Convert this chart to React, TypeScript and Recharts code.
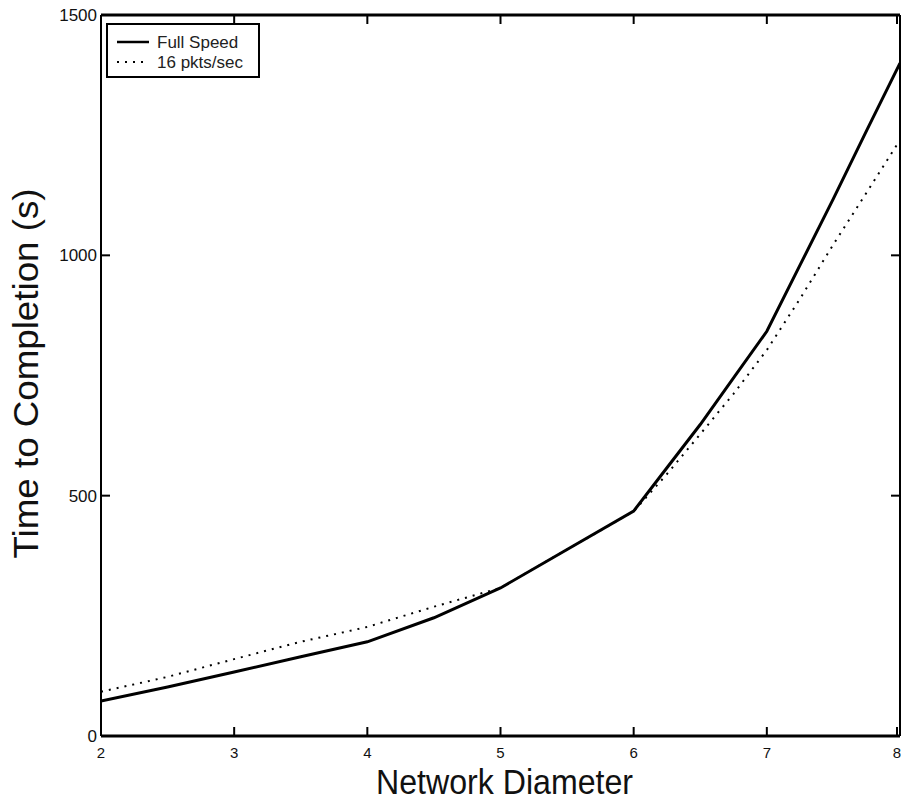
import React from "react";
import { LineChart, Line, XAxis, YAxis, Legend } from "recharts";

const diameters = [2, 2.5, 3, 3.5, 4, 4.5, 5, 5.5, 6, 6.25, 6.5, 6.75, 7, 7.25, 7.5, 7.75, 8];
const fullSpeed = [73, 102, 133, 165, 196, 246, 308, 388, 468, 558, 648, 745, 842, 980, 1118, 1260, 1400];
const limitedRate = [92, 123, 160, 196, 227, 269, 308, 388, 467, 545, 628, 712, 803, 910, 1023, 1131, 1240];
const xTicks = [2, 3, 4, 5, 6, 7, 8];
const yTicks = [0, 500, 1000, 1500];
const seriesNames = ["Full Speed", "16 pkts/sec"];

const data = diameters.map((d, i) => ({ d, full: fullSpeed[i], limited: limitedRate[i] }));

const FONT = '"Liberation Sans", Arial, Helvetica, sans-serif';
const TICK_LEN = 9;

const BottomTick = (props: any) => {
  const { x, y, payload } = props;
  return (
    <g>
      <line x1={x} y1={y} x2={x} y2={y - TICK_LEN} stroke="#000" strokeWidth={2} />
      <text x={x} y={y + 22} textAnchor="middle" fontFamily={FONT} fontSize={15} fill="#111">
        {payload.value}
      </text>
    </g>
  );
};

const TopTick = (props: any) => {
  const { x, y } = props;
  return <line x1={x} y1={y} x2={x} y2={y + TICK_LEN} stroke="#000" strokeWidth={2} />;
};

const LeftTick = (props: any) => {
  const { x, y, payload } = props;
  return (
    <g>
      <line x1={x} y1={y} x2={x + TICK_LEN} y2={y} stroke="#000" strokeWidth={2} />
      <text x={x - 4} y={y + 6} textAnchor="end" fontFamily={FONT} fontSize={17} fill="#111">
        {payload.value}
      </text>
    </g>
  );
};

const RightTick = (props: any) => {
  const { x, y } = props;
  return <line x1={x} y1={y} x2={x - TICK_LEN} y2={y} stroke="#000" strokeWidth={2} />;
};

const YLabel = (props: any) => {
  const vb = props.viewBox || {};
  const cy = vb.y + vb.height / 2 - 2;
  return (
    <text
      x={38}
      y={cy}
      transform={`rotate(-90, 38, ${cy})`}
      textAnchor="middle"
      fontFamily={FONT}
      fontSize={35}
      textLength={370}
      lengthAdjust="spacingAndGlyphs"
      fill="#111"
    >
      Time to Completion (s)
    </text>
  );
};

const XLabel = (props: any) => {
  const vb = props.viewBox || {};
  const cx = vb.x + vb.width / 2 + 4;
  return (
    <text
      x={cx}
      y={vb.y + 58}
      textAnchor="middle"
      fontFamily={FONT}
      fontSize={35}
      textLength={257}
      lengthAdjust="spacingAndGlyphs"
      fill="#111"
    >
      Network Diameter
    </text>
  );
};

const LegendBox = (props: any) => {
  const payload = [...(props.payload || [])].sort(
    (a: any, b: any) => seriesNames.indexOf(a.value) - seriesNames.indexOf(b.value)
  );
  return (
    <svg width={155} height={56} style={{ display: "block" }}>
      <rect x={1} y={1} width={152} height={53} fill="#fff" stroke="#000" strokeWidth={2} />
      {payload.map((entry: any, i: number) => {
        const cy = 19 + i * 20;
        return (
          <g key={i}>
            <line
              x1={11}
              x2={43}
              y1={cy}
              y2={cy}
              stroke="#000"
              strokeWidth={i === 0 ? 2.5 : 2}
              strokeDasharray={entry.payload && entry.payload.strokeDasharray}
            />
            <text x={51} y={cy + 6} fontFamily={FONT} fontSize={17} fill="#222">
              {entry.value}
            </text>
          </g>
        );
      })}
    </svg>
  );
};

export default function App() {
  return (
    <div style={{ position: "absolute", left: 0, top: 0, width: 901, height: 798, background: "#fff" }}>
      <LineChart width={901} height={798} data={data} margin={{ top: 14, right: 0, left: 0, bottom: 0 }}>
        <XAxis
          xAxisId="bottom"
          dataKey="d"
          type="number"
          domain={[2, 8]}
          ticks={xTicks}
          allowDataOverflow
          height={62}
          tickSize={0}
          tickMargin={0}
          tick={BottomTick}
          axisLine={{ stroke: "#000", strokeWidth: 3 }}
          label={<XLabel />}
        />
        <XAxis
          xAxisId="top"
          orientation="top"
          dataKey="d"
          type="number"
          domain={[2, 8]}
          ticks={xTicks}
          allowDataOverflow
          height={1}
          tickSize={0}
          tickMargin={0}
          tick={TopTick}
          axisLine={{ stroke: "#000", strokeWidth: 3 }}
        />
        <YAxis
          yAxisId="left"
          type="number"
          domain={[0, 1500]}
          ticks={yTicks}
          allowDataOverflow
          width={101}
          tickSize={0}
          tickMargin={0}
          tick={LeftTick}
          axisLine={{ stroke: "#000", strokeWidth: 2 }}
          label={<YLabel />}
        />
        <YAxis
          yAxisId="right"
          orientation="right"
          type="number"
          domain={[0, 1500]}
          ticks={yTicks}
          allowDataOverflow
          width={1}
          tickSize={0}
          tickMargin={0}
          tick={RightTick}
          axisLine={{ stroke: "#000", strokeWidth: 2 }}
        />
        <Legend
          layout="vertical"
          align="center"
          verticalAlign="middle"
          content={<LegendBox />}
          wrapperStyle={{ position: "absolute", left: 106, top: 23, width: 155, height: 56 }}
        />
        <Line
          xAxisId="bottom"
          yAxisId="left"
          type="linear"
          dataKey="full"
          name={seriesNames[0]}
          stroke="#000"
          strokeWidth={3}
          dot={false}
          isAnimationActive={false}
        />
        <Line
          xAxisId="bottom"
          yAxisId="left"
          type="linear"
          dataKey="limited"
          name={seriesNames[1]}
          stroke="#000"
          strokeWidth={2}
          strokeDasharray="2 6"
          dot={false}
          isAnimationActive={false}
        />
      </LineChart>
    </div>
  );
}
